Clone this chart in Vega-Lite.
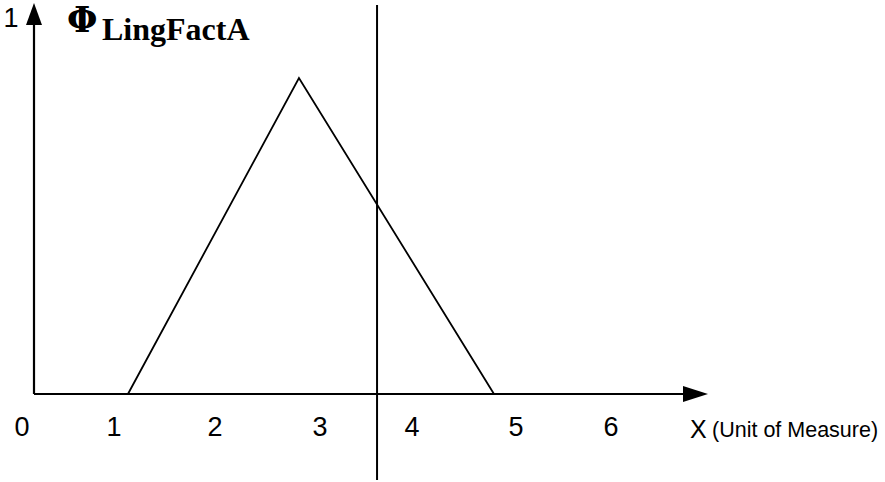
{
  "$schema": "https://vega.github.io/schema/vega-lite/v6.json",
  "width": 885,
  "height": 482,
  "autosize": {"type": "fit", "contains": "padding"},
  "padding": 0,
  "background": "white",
  "config": {"view": {"stroke": null}},
  "encoding": {
    "x": {"field": "x", "type": "quantitative", "scale": {"domain": [-0.3579, 8.9579], "nice": false, "zero": false}, "axis": null},
    "y": {"field": "y", "type": "quantitative", "scale": {"domain": [-0.2316, 1.0368], "nice": false, "zero": false}, "axis": null}
  },
  "layer": [
    {
      "data": {"values": [{"x": 0, "y": 0, "x2": 0, "y2": 0.98}, {"x": 0, "y": 0, "x2": 6.84, "y2": 0}]},
      "mark": {"type": "rule", "color": "black", "strokeWidth": 2.2},
      "encoding": {"x2": {"field": "x2"}, "y2": {"field": "y2"}}
    },
    {
      "data": {"values": [{"x": 3.611, "y": -0.2263, "y2": 1.0237}]},
      "mark": {"type": "rule", "color": "black", "strokeWidth": 2},
      "encoding": {"y2": {"field": "y2"}}
    },
    {
      "data": {"values": [{"x": 0.989, "y": 0}, {"x": 2.789, "y": 0.8316}, {"x": 4.842, "y": 0}]},
      "mark": {"type": "line", "color": "black", "strokeWidth": 1.8}
    },
    {
      "data": {"values": [{"x": 0, "y": 1.0}]},
      "mark": {"type": "point", "shape": "M0,-1L0.727,1L-0.727,1Z", "size": 484, "filled": true, "color": "black", "opacity": 1}
    },
    {
      "data": {"values": [{"x": 6.963, "y": 0}]},
      "mark": {"type": "point", "shape": "M1,0L-1,0.64L-1,-0.64Z", "size": 625, "filled": true, "color": "black", "opacity": 1}
    },
    {
      "data": {"values": [
        {"label": "0", "x": -0.126, "y": -0.1105},
        {"label": "1", "x": 0.842, "y": -0.1105},
        {"label": "2", "x": 1.905, "y": -0.1105},
        {"label": "3", "x": 3.011, "y": -0.1105},
        {"label": "4", "x": 3.979, "y": -0.1105},
        {"label": "5", "x": 5.074, "y": -0.1105},
        {"label": "6", "x": 6.074, "y": -0.1105},
        {"label": "1", "x": -0.242, "y": 0.966}
      ]},
      "mark": {"type": "text", "font": "Liberation Sans", "fontSize": 27, "align": "center", "baseline": "alphabetic", "color": "black"},
      "encoding": {"text": {"field": "label"}}
    },
    {
      "data": {"values": [{"label": "X", "x": 6.905, "y": -0.1158}]},
      "mark": {"type": "text", "font": "Liberation Sans", "fontSize": 25, "align": "left", "baseline": "alphabetic", "color": "black"},
      "encoding": {"text": {"field": "label"}}
    },
    {
      "data": {"values": [{"label": "(Unit of Measure)", "x": 7.137, "y": -0.113}]},
      "mark": {"type": "text", "font": "Liberation Sans", "fontSize": 21.5, "align": "left", "baseline": "alphabetic", "color": "black"},
      "encoding": {"text": {"field": "label"}}
    },
    {
      "data": {"values": [{"label": "Φ", "x": 0.347, "y": 0.953}]},
      "mark": {"type": "text", "font": "DejaVu Serif", "fontWeight": "bold", "fontSize": 35, "align": "left", "baseline": "alphabetic", "color": "black"},
      "encoding": {"text": {"field": "label"}}
    },
    {
      "data": {"values": [{"label": "LingFactA", "x": 0.716, "y": 0.9316}]},
      "mark": {"type": "text", "font": "Liberation Serif", "fontWeight": "bold", "fontSize": 32, "align": "left", "baseline": "alphabetic", "color": "black"},
      "encoding": {"text": {"field": "label"}}
    }
  ]
}
